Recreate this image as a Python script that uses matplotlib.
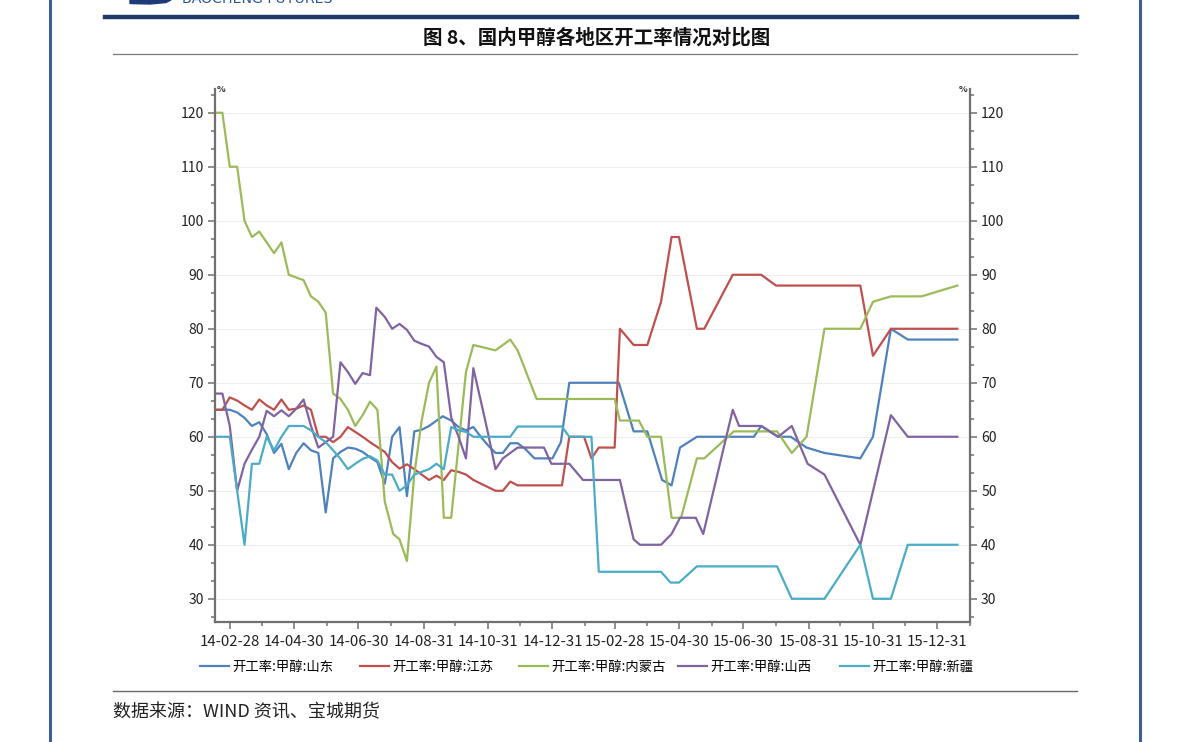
import matplotlib
matplotlib.use("Agg")
import matplotlib.pyplot as plt
from matplotlib.lines import Line2D
from matplotlib.patches import Polygon
from matplotlib.ticker import AutoMinorLocator
import pandas as pd

plt.rcParams['font.family'] = ['Noto Sans CJK SC', 'DejaVu Sans']

# 开工率:甲醇:山东
sd_dates = ['2014-02-14', '2014-02-28', '2014-03-07', '2014-03-14', '2014-03-21', '2014-03-28',
            '2014-04-04', '2014-04-11', '2014-04-18', '2014-04-25', '2014-05-02', '2014-05-09',
            '2014-05-16', '2014-05-23', '2014-05-30', '2014-06-06', '2014-06-13', '2014-06-20',
            '2014-06-27', '2014-07-04', '2014-07-11', '2014-07-18', '2014-07-25', '2014-08-01',
            '2014-08-08', '2014-08-15', '2014-08-22', '2014-08-29', '2014-09-05', '2014-09-18',
            '2014-09-26', '2014-10-03', '2014-10-10', '2014-10-17', '2014-10-24', '2014-10-31',
            '2014-11-07', '2014-11-14', '2014-11-21', '2014-11-28', '2014-12-05', '2014-12-14',
            '2014-12-31', '2015-01-08', '2015-01-16', '2015-03-04', '2015-03-18', '2015-03-31',
            '2015-04-14', '2015-04-23', '2015-05-01', '2015-05-17', '2015-07-10', '2015-07-17',
            '2015-08-02', '2015-08-14', '2015-08-29', '2015-09-15', '2015-10-19', '2015-10-31',
            '2015-11-17', '2015-12-03', '2016-01-19']
sd_vals = [65, 65, 64.5, 63.5, 62, 62.7, 60.5, 57, 58.7, 54, 57, 58.8, 57.5, 57, 46, 56, 57.2, 58,
           57.8, 57.2, 56.2, 55.3, 51.3, 60, 61.8, 49, 61, 61.3, 62, 63.8, 63, 61.8, 61.2, 61.8,
           60, 58.4, 57, 57, 58.8, 58.8, 57.8, 56, 56, 59, 70, 70, 61, 61, 52, 51, 58, 60, 60, 62,
           60, 60, 58, 57, 56, 60, 80, 78, 78]

# 开工率:甲醇:江苏
js_dates = ['2014-02-14', '2014-02-21', '2014-02-28', '2014-03-07', '2014-03-14', '2014-03-21',
            '2014-03-28', '2014-04-04', '2014-04-11', '2014-04-18', '2014-04-25', '2014-05-02',
            '2014-05-09', '2014-05-16', '2014-05-23', '2014-05-30', '2014-06-06', '2014-06-13',
            '2014-06-20', '2014-06-27', '2014-07-04', '2014-07-11', '2014-07-18', '2014-07-25',
            '2014-08-01', '2014-08-08', '2014-08-15', '2014-08-22', '2014-08-29', '2014-09-05',
            '2014-09-12', '2014-09-19', '2014-09-26', '2014-10-03', '2014-10-10', '2014-10-17',
            '2014-11-07', '2014-11-14', '2014-11-21', '2014-11-28', '2015-01-09', '2015-01-16',
            '2015-01-30', '2015-02-06', '2015-02-13', '2015-02-28', '2015-03-05', '2015-03-18',
            '2015-03-31', '2015-04-13', '2015-04-23', '2015-04-30', '2015-05-17', '2015-05-24',
            '2015-06-20', '2015-07-17', '2015-07-31', '2015-10-19', '2015-10-31', '2015-11-17',
            '2016-01-19']
js_vals = [65, 65, 67.3, 66.7, 65.8, 65, 66.9, 65.8, 65, 66.9, 65, 65.2, 65.8, 65, 60, 60, 59, 60,
           61.8, 60.9, 60, 59, 58.1, 57.2, 55.3, 54.1, 54.9, 54, 53, 52, 52.8, 52, 53.8, 53.5, 53,
           52, 50, 50, 51.7, 51, 51, 60, 60, 56, 58, 58, 80, 77, 77, 85, 97, 97, 80, 80, 90, 90,
           88, 88, 75, 80, 80]

# 开工率:甲醇:内蒙古
nmg_dates = ['2014-02-14', '2014-02-21', '2014-02-28', '2014-03-07', '2014-03-14', '2014-03-21',
             '2014-03-28', '2014-04-11', '2014-04-18', '2014-04-25', '2014-05-09', '2014-05-16',
             '2014-05-23', '2014-05-30', '2014-06-06', '2014-06-13', '2014-06-20', '2014-06-27',
             '2014-07-04', '2014-07-11', '2014-07-18', '2014-07-25', '2014-08-02', '2014-08-08',
             '2014-08-15', '2014-08-22', '2014-08-29', '2014-09-05', '2014-09-12', '2014-09-19',
             '2014-09-26', '2014-10-10', '2014-10-17', '2014-11-07', '2014-11-21', '2014-11-28',
             '2014-12-16', '2015-02-28', '2015-03-05', '2015-03-23', '2015-03-31', '2015-04-13',
             '2015-04-23', '2015-05-02', '2015-05-17', '2015-05-24', '2015-06-21', '2015-08-01',
             '2015-08-15', '2015-08-29', '2015-09-15', '2015-10-19', '2015-10-31', '2015-11-17',
             '2015-12-16', '2016-01-19']
nmg_vals = [120, 120, 110, 110, 100, 97, 98, 94, 96, 90, 89, 86, 85, 83, 68, 67, 65, 62, 64, 66.5,
            65, 48, 42, 41, 37, 53, 63, 70, 73, 45, 45, 72, 77, 76, 78, 76, 67, 67, 63, 63, 60, 60,
            45, 45, 56, 56, 61, 61, 57, 60, 80, 80, 85, 86, 86, 88]

# 开工率:甲醇:山西
sx_dates = ['2014-02-14', '2014-02-21', '2014-02-28', '2014-03-07', '2014-03-14', '2014-03-21',
            '2014-03-28', '2014-04-04', '2014-04-11', '2014-04-18', '2014-04-25', '2014-05-02',
            '2014-05-09', '2014-05-16', '2014-05-23', '2014-05-30', '2014-06-06', '2014-06-13',
            '2014-06-20', '2014-06-27', '2014-07-04', '2014-07-11', '2014-07-17', '2014-07-25',
            '2014-08-01', '2014-08-08', '2014-08-15', '2014-08-22', '2014-08-29', '2014-09-05',
            '2014-09-12', '2014-09-19', '2014-09-26', '2014-10-03', '2014-10-10', '2014-10-17',
            '2014-10-24', '2014-10-31', '2014-11-07', '2014-11-14', '2014-11-21', '2014-11-28',
            '2014-12-23', '2014-12-30', '2015-01-16', '2015-01-29', '2015-03-05', '2015-03-18',
            '2015-03-24', '2015-04-13', '2015-04-23', '2015-05-01', '2015-05-16', '2015-05-23',
            '2015-06-20', '2015-06-26', '2015-07-17', '2015-08-02', '2015-08-15', '2015-08-30',
            '2015-09-15', '2015-10-19', '2015-11-17', '2015-12-03', '2016-01-19']
sx_vals = [68, 68, 62, 50, 55, 57.6, 60, 64.8, 63.8, 64.9, 63.8, 65.2, 66.9, 62, 58, 59, 60, 73.8,
           72, 69.8, 71.8, 71.4, 83.9, 82.2, 80, 80.9, 79.8, 77.8, 77.2, 76.7, 74.8, 73.8, 63.6,
           60, 56, 72.7, 66.7, 60.6, 54, 56, 57, 58, 58, 55, 55, 52, 52, 41, 40, 40, 42, 45, 45,
           42, 65, 62, 62, 60, 62, 55, 53, 40, 64, 60, 60]

# 开工率:甲醇:新疆
xj_dates = ['2014-02-14', '2014-02-28', '2014-03-14', '2014-03-21', '2014-03-28', '2014-04-04',
            '2014-04-11', '2014-04-18', '2014-04-25', '2014-05-09', '2014-05-16', '2014-05-23',
            '2014-05-30', '2014-06-06', '2014-06-13', '2014-06-20', '2014-06-27', '2014-07-04',
            '2014-07-11', '2014-07-18', '2014-07-25', '2014-08-01', '2014-08-08', '2014-08-15',
            '2014-08-22', '2014-08-29', '2014-09-05', '2014-09-12', '2014-09-19', '2014-09-26',
            '2014-10-03', '2014-10-10', '2014-10-17', '2014-11-21', '2014-11-28', '2015-01-09',
            '2015-01-16', '2015-02-06', '2015-02-13', '2015-04-13', '2015-04-22', '2015-04-30',
            '2015-05-17', '2015-08-01', '2015-08-15', '2015-09-15', '2015-10-19', '2015-10-31',
            '2015-11-17', '2015-12-03', '2016-01-19']
xj_vals = [60, 60, 40, 55, 55, 60, 57.5, 60, 62, 62, 61.2, 60, 59, 57.5, 55.9, 54, 55, 55.9, 56.4,
           55.6, 53, 53, 50, 51, 53, 53.5, 54, 55, 54, 61.8, 61.2, 60.9, 60, 60, 61.9, 61.9, 60,
           60, 35, 35, 33, 33, 36, 36, 30, 30, 40, 30, 30, 40, 40]

labels = ['开工率:甲醇:山东', '开工率:甲醇:江苏', '开工率:甲醇:内蒙古', '开工率:甲醇:山西', '开工率:甲醇:新疆']
colors = ['#4F81BD', '#C0504D', '#9BBB59', '#8064A2', '#4BACC6']

tick_dates = ['2014-02-28', '2014-04-30', '2014-06-30', '2014-08-31', '2014-10-31', '2014-12-31',
              '2015-02-28', '2015-04-30', '2015-06-30', '2015-08-31', '2015-10-31', '2015-12-31']
tick_labels = ['14-02-28', '14-04-30', '14-06-30', '14-08-31', '14-10-31', '14-12-31',
               '15-02-28', '15-04-30', '15-06-30', '15-08-31', '15-10-31', '15-12-31']

title = '图 8、国内甲醇各地区开工率情况对比图'
source = '数据来源：WIND 资讯、宝城期货'

W, H = 1191, 742


def fx(x):
    return x / W


def fy(y):
    return 1 - y / H


fig = plt.figure(figsize=(W / 100, H / 100), dpi=100)

# page decoration (report header / borders)
fig.add_artist(Line2D([fx(50), fx(50)], [0, 1], color='#3E5E98', lw=2.2))
fig.add_artist(Line2D([fx(1140), fx(1140)], [0, 1], color='#3E5E98', lw=2.2))
fig.add_artist(Line2D([fx(105), fx(1077)], [fy(17), fy(17)], color='#1F3A68', lw=3.2))
fig.add_artist(Line2D([fx(113), fx(1077)], [fy(54), fy(54)], color='#7a7a7a', lw=0.9))
fig.add_artist(Line2D([fx(113), fx(1077)], [fy(691), fy(691)], color='#6a6a6a', lw=1.0))
fig.add_artist(Polygon([[fx(130), 1], [fx(171), 1], [fx(166), fy(2.5)], [fx(150), fy(4)], [fx(130), fy(3.5)]],
                       closed=True, transform=fig.transFigure, color='#1F3A78'))
fig.text(fx(182), fy(3.3), 'BAOCHENG FUTURES', fontsize=10.2, color='#2F5597', va='baseline',
         family=['DejaVu Sans'])

fig.text(fx(597), fy(38), title, ha='center', va='center', fontsize=14, fontweight='bold',
         color='#111111')
fig.text(fx(113), fy(712), source, ha='left', va='center', fontsize=13, color='#222222')

ax = fig.add_axes([fx(215), fy(622), 755 / W, 533 / H])

series = [(sd_dates, sd_vals), (js_dates, js_vals), (nmg_dates, nmg_vals),
          (sx_dates, sx_vals), (xj_dates, xj_vals)]
handles = []
for (d, v), lab, c in zip(series, labels, colors):
    h, = ax.plot(pd.to_datetime(d), v, color=c, lw=1.6, label=lab)
    handles.append(h)

ax.set_xlim(pd.Timestamp('2014-02-14'), pd.Timestamp('2016-01-19'))
ax.set_ylim(25.7, 124.4)
ax.set_yticks(range(30, 121, 10))
ax.yaxis.set_minor_locator(AutoMinorLocator(3))
ax.set_xticks(pd.to_datetime(tick_dates))
ax.set_xticklabels(tick_labels)
ax.set_xticks(pd.date_range('2014-02-28', '2016-01-31', freq='ME'), minor=True)

ax.yaxis.set_ticks_position('both')
ax.tick_params(axis='y', which='both', labelleft=True, labelright=True)
ax.tick_params(which='both', direction='out', color='#707070', width=1.1)
ax.tick_params(which='major', length=5, labelsize=10, labelcolor='#222222', pad=3)
ax.tick_params(which='minor', length=3)
ax.tick_params(axis='x', which='major', pad=4, labelsize=10.8)

for s in ['left', 'right', 'bottom']:
    ax.spines[s].set_color('#707070')
    ax.spines[s].set_linewidth(1.6)
ax.spines['top'].set_visible(False)

ax.grid(axis='y', which='major', color='#eeeeee', lw=0.8)
ax.set_axisbelow(True)

fig.text(fx(217), fy(90), '%', fontsize=6.5, fontweight='bold', color='#333333', va='center')
fig.text(fx(967), fy(90), '%', fontsize=6.5, fontweight='bold', color='#333333', va='center',
         ha='right')

legend_x = [200, 360, 519, 678, 840]
for h, lab, x0 in zip(handles, labels, legend_x):
    fig.legend([h], [lab], loc='center left', bbox_to_anchor=(fx(x0), fy(667)), frameon=False,
               fontsize=9.6, handlelength=2.2, handletextpad=0.2, borderpad=0, borderaxespad=0)

fig.savefig('out.png', dpi=100)
